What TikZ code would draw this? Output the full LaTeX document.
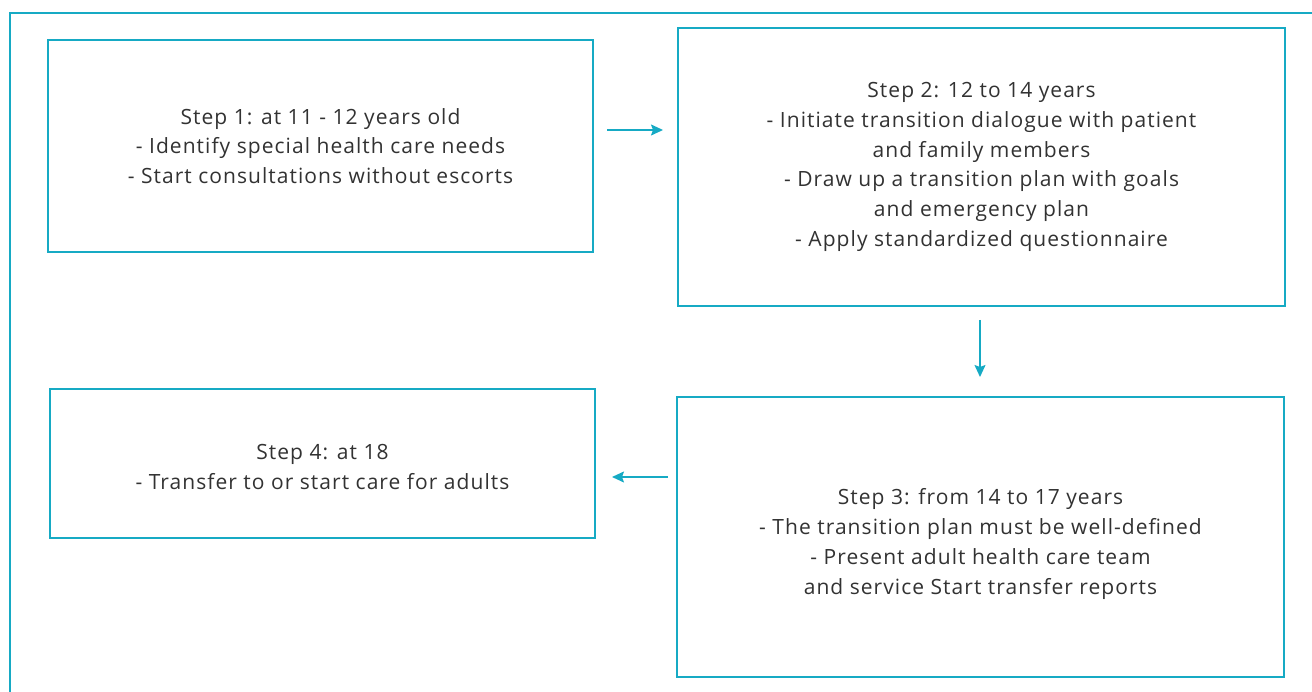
\documentclass[tikz,border=0pt]{standalone}
\usepackage{fontspec}
\setmainfont{Open Sans}[LetterSpace=5]
\usetikzlibrary{arrows.meta}
\definecolor{teal1}{RGB}{22,170,196}
\definecolor{txt}{RGB}{50,50,50}
\begin{document}
\begin{tikzpicture}[x=1pt,y=-1pt,
  stepbox/.style={align=center,text=txt,font=\fontsize{21}{29.7}\selectfont,inner sep=0pt},
  frame/.style={draw=teal1,line width=1.4pt},
  arr/.style={draw=teal1,line width=1.4pt,-{Stealth[length=12pt,width=11pt,inset=2pt]}}]
\useasboundingbox (0,0) rectangle (1312,692);
\draw[frame] (10,700) -- (10,13) -- (1320,13);
\draw[frame] (48,40) rectangle (593,252);
\node[stepbox] (b1) at (320.5,146) {Step 1: at 11 - 12 years old\\- Identify special health care needs\\- Start consultations without escorts};
\coordinate (b1e) at (593,130);
\draw[frame] (678,28) rectangle (1285,306);
\node[stepbox] (b2) at (981.5,167) {Step 2: 12 to 14 years\\- Initiate transition dialogue with patient\\and family members\\- Draw up a transition plan with goals\\and emergency plan\\- Apply standardized questionnaire};
\coordinate (b2w) at (678,130);
\coordinate (b2s) at (980,306);
\draw[frame] (677,397) rectangle (1284,677);
\node[stepbox] (b3) at (980.5,544) {Step 3: from 14 to 17 years\\- The transition plan must be well-defined\\- Present adult health care team\\and service Start transfer reports};
\coordinate (b3n) at (980,397);
\coordinate (b3w) at (677,477);
\draw[frame] (50,389) rectangle (595,538);
\node[stepbox] (b4) at (322.5,467) {Step 4: at 18\\- Transfer to or start care for adults};
\coordinate (b4e) at (595,477);
\draw[arr,shorten <=14pt,shorten >=15pt] (b1e) -- (b2w);
\draw[arr,shorten <=14pt,shorten >=20pt] (b2s) -- (b3n);
\draw[arr,shorten <=9pt,shorten >=17pt] (b3w) -- (b4e);
\end{tikzpicture}
\end{document}
